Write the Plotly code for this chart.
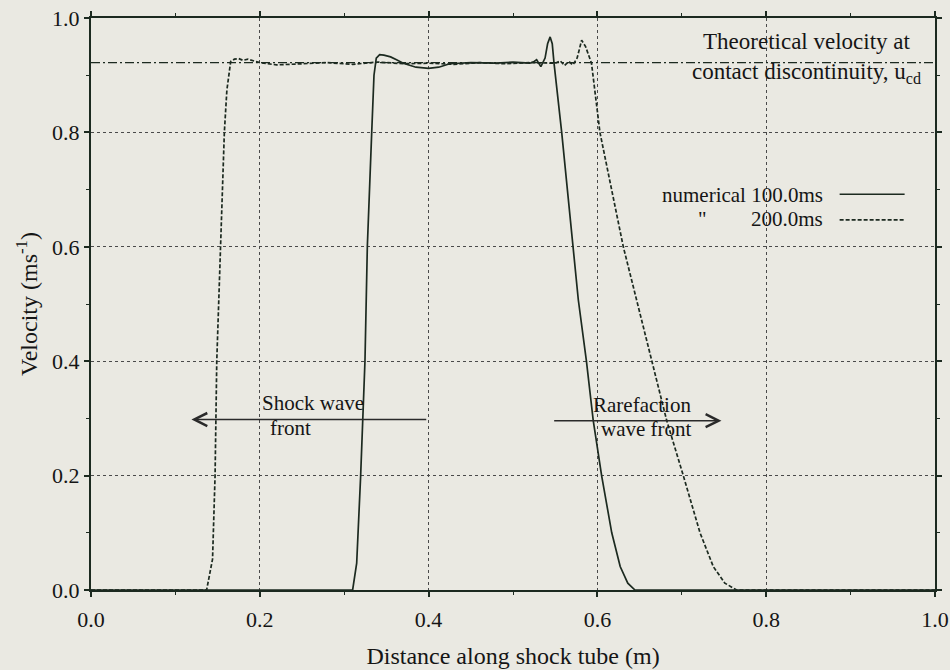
import plotly.graph_objects as go

# Velocity profiles along the shock tube (distance in m, velocity in m/s)
x_100ms = [0.0, 0.310, 0.3148, 0.3195, 0.3246, 0.3274, 0.3326, 0.3353, 0.338, 0.342,
           0.347, 0.355, 0.362, 0.370, 0.385, 0.400, 0.412, 0.425, 0.45, 0.48, 0.50,
           0.52, 0.525, 0.528, 0.533, 0.538, 0.541, 0.544, 0.5465, 0.5486, 0.5577,
           0.5714, 0.5774, 0.587, 0.595, 0.605, 0.617, 0.627, 0.636, 0.6445, 1.0]
v_100ms = [0.0, 0.0, 0.047, 0.2, 0.4, 0.6, 0.8, 0.9, 0.93, 0.936,
           0.935, 0.932, 0.927, 0.921, 0.914, 0.912, 0.914, 0.92, 0.922, 0.921, 0.923,
           0.921, 0.924, 0.927, 0.915, 0.93, 0.955, 0.967, 0.955, 0.921, 0.8,
           0.6, 0.507, 0.4, 0.297, 0.2, 0.1, 0.041, 0.012, 0.0, 0.0]

x_200ms = [0.0, 0.137, 0.144, 0.147, 0.149, 0.1536, 0.158, 0.161, 0.1655, 0.170,
           0.175, 0.180, 0.186, 0.20, 0.22, 0.25, 0.28, 0.31, 0.34, 0.37, 0.40,
           0.43, 0.46, 0.49, 0.52, 0.55, 0.556, 0.561, 0.566, 0.571, 0.576, 0.5813,
           0.586, 0.593, 0.603, 0.6307, 0.6465, 0.664, 0.682, 0.7018, 0.7216,
           0.7373, 0.751, 0.765, 1.0]
v_200ms = [0.0, 0.0, 0.054, 0.2, 0.4, 0.6, 0.8, 0.874, 0.924, 0.928,
           0.929, 0.926, 0.928, 0.922, 0.918, 0.92, 0.922, 0.919, 0.923, 0.92, 0.921,
           0.919, 0.922, 0.92, 0.922, 0.921, 0.925, 0.917, 0.924, 0.918, 0.93, 0.961,
           0.95, 0.921, 0.8, 0.6, 0.507, 0.4, 0.297, 0.2, 0.1,
           0.041, 0.012, 0.0, 0.0]

# Theoretical velocity at the contact discontinuity
u_cd = 0.922

x_ticks = [0.0, 0.2, 0.4, 0.6, 0.8, 1.0]
y_ticks = [0.0, 0.2, 0.4, 0.6, 0.8, 1.0]
tick_labels = ["0.0", "0.2", "0.4", "0.6", "0.8", "1.0"]

# wave-front arrows: (tail x, head x, y)
shock_arrow = (0.399, 0.119, 0.298)
rarefaction_arrow = (0.547, 0.747, 0.296)

FONT = "Liberation Serif"
INK = "#1c2a20"
TEXT = "#151515"
BG = "#eae9e2"

fig = go.Figure()

fig.add_trace(go.Scatter(x=[0.0, 1.0], y=[u_cd, u_cd], mode="lines",
                         line=dict(color=INK, width=1.2, dash="9px,3px,2px,3px"),
                         showlegend=False, hoverinfo="skip"))
fig.add_trace(go.Scatter(x=x_100ms, y=v_100ms, mode="lines",
                         line=dict(color=INK, width=1.7),
                         showlegend=False))
fig.add_trace(go.Scatter(x=x_200ms, y=v_200ms, mode="lines",
                         line=dict(color=INK, width=1.7, dash="4px,2px"),
                         showlegend=False))

axis_common = dict(
    range=[0, 1],
    tickvals=x_ticks,
    ticktext=tick_labels,
    automargin=False,
    showgrid=True,
    gridcolor="#4a4a4a",
    gridwidth=1,
    griddash="dot",
    zeroline=False,
    showline=True,
    linecolor=INK,
    linewidth=2,
    mirror="allticks",
    ticks="outside",
    ticklen=5,
    tickwidth=1.5,
    tickcolor=INK,
    minor=dict(dtick=0.1, ticks="outside", ticklen=3, tickwidth=1.2,
               tickcolor=INK, showgrid=False),
    tickfont=dict(family=FONT, size=22, color=TEXT),
)

fig.update_xaxes(**axis_common, ticklabelstandoff=4,
                 title=dict(text="Distance along shock tube (m)",
                            font=dict(family=FONT, size=24, color=TEXT),
                            standoff=16))
fig.update_yaxes(**{**axis_common, "tickvals": y_ticks},
                 title=dict(text="Velocity (ms<sup>-1</sup>)",
                            font=dict(family=FONT, size=24, color=TEXT),
                            standoff=8))

anno_font = dict(family=FONT, size=21, color=TEXT)
note_font = dict(family=FONT, size=23, color=TEXT)

# wave-front arrows and their labels
for tail_x, head_x, y in (shock_arrow, rarefaction_arrow):
    fig.add_annotation(x=head_x, y=y, ax=tail_x, ay=y, xref="x", yref="y",
                       axref="x", ayref="y", text="", showarrow=True,
                       arrowhead=5, arrowsize=1.6, arrowwidth=1.6, arrowcolor="#2a2a2a")

fig.add_annotation(x=0.2005, y=0.327, text="Shock wave", showarrow=False,
                   xanchor="left", font=anno_font)
fig.add_annotation(x=0.21, y=0.283, text="front", showarrow=False,
                   xanchor="left", font=anno_font)
fig.add_annotation(x=0.592, y=0.323, text="Rarefaction", showarrow=False,
                   xanchor="left", font=anno_font)
fig.add_annotation(x=0.602, y=0.281, text="wave front", showarrow=False,
                   xanchor="left", font=anno_font)

fig.add_annotation(x=0.848, y=0.93,
                   text="Theoretical velocity at<br>contact discontinuity, u<sub>cd</sub>",
                   showarrow=False, xanchor="center", yanchor="middle", align="center",
                   font=note_font)

# hand-drawn legend: labels on the left, line samples on the right
fig.add_annotation(x=0.87, y=0.69, text="numerical 100.0ms", showarrow=False,
                   xanchor="right", font=anno_font)
fig.add_annotation(x=0.724, y=0.648, text="\"", showarrow=False,
                   xanchor="center", font=anno_font)
fig.add_annotation(x=0.87, y=0.648, text="200.0ms", showarrow=False,
                   xanchor="right", font=anno_font)
fig.add_shape(type="line", xref="x", yref="y", x0=0.887, x1=0.964, y0=0.692, y1=0.692,
              line=dict(color=INK, width=1.6))
fig.add_shape(type="line", xref="x", yref="y", x0=0.887, x1=0.964, y0=0.647, y1=0.647,
              line=dict(color=INK, width=1.6, dash="4px,2px"))

fig.update_layout(
    width=950, height=670,
    margin=dict(l=91, r=15, t=18, b=80),
    paper_bgcolor=BG,
    plot_bgcolor=BG,
    showlegend=False,
)

fig.write_html("out.html")
